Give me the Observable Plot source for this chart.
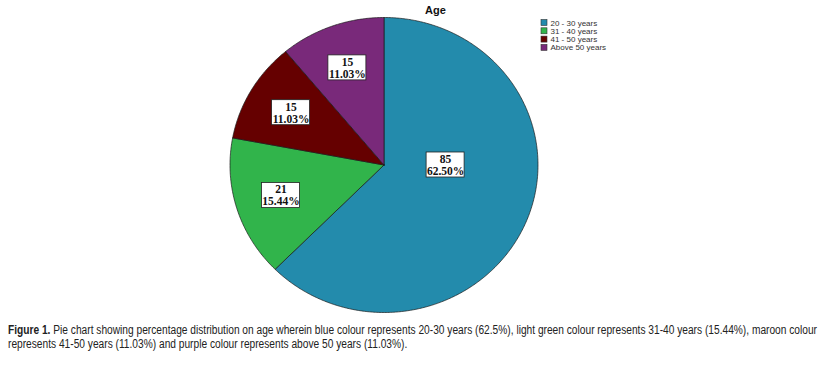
<!DOCTYPE html>
<html><head><meta charset="utf-8">
<script src="https://cdn.jsdelivr.net/npm/d3@7"></script>
<script src="https://cdn.jsdelivr.net/npm/@observablehq/plot@0.6"></script>
<style>
body{margin:0;background:#fff;}
#caption{font-family:"Liberation Sans",Arial,sans-serif;font-size:12px;color:#222;line-height:13.5px;padding:6px 0 0 8px;}
#caption div{white-space:nowrap;transform-origin:0 0;display:inline-block;}
</style></head>
<body><div id="chart"></div>
<div id="caption"><div id="cl1"><b>Figure 1.</b> Pie chart showing percentage distribution on age wherein blue colour represents 20-30 years (62.5%), light green colour represents 31-40 years (15.44%), maroon colour</div><br><div id="cl2">represents 41-50 years (11.03%) and purple colour represents above 50 years (11.03%).</div></div>
<script>
const categories = ["20 - 30 years", "31 - 40 years", "41 - 50 years", "Above 50 years"];
const counts = [85, 21, 15, 15];
const colors = ["#238bac", "#31b44b", "#650000", "#79297a"];
const chartTitle = "Age";

const W = 834, H = 318;
const cx = 383.5, cy = 164.5, rx = 154, ry = 147.5;
const total = d3.sum(counts);
const data = categories.map((c, i) => ({category: c, count: counts[i], pct: (100 * counts[i] / total).toFixed(2) + "%"}));
const arcs = d3.pie().sort(null).value(d => d.count)(data);

// slice outlines
const pts = [];
for (const a of arcs) {
  const n = Math.max(4, Math.ceil((a.endAngle - a.startAngle) / 0.01));
  pts.push({category: a.data.category, x: cx, y: cy});
  for (let k = 0; k <= n; k++) {
    const t = a.startAngle + (a.endAngle - a.startAngle) * k / n;
    pts.push({category: a.data.category, x: cx + rx * Math.sin(t), y: cy - ry * Math.cos(t)});
  }
  pts.push({category: a.data.category, x: cx, y: cy});
}

// label positions
const labels = arcs.map(a => {
  const span = a.endAngle - a.startAngle;
  const m = (a.startAngle + a.endAngle) / 2;
  let x, y;
  if (span > Math.PI) {
    x = cx + Math.sign(Math.sin(m)) * 0.4 * rx; y = cy;
  } else {
    x = cx + 0.7 * rx * Math.sin(m); y = cy - 0.7 * ry * Math.cos(m);
  }
  return {x, y, text: a.data.count + "\n" + a.data.pct};
});

const legend = categories.map((c, i) => ({category: c, y: 22.5 + i * 8.3}));

const plot = Plot.plot({
  width: W, height: H, margin: 0,
  x: {domain: [0, W], range: [0, W], axis: null},
  y: {domain: [0, H], range: [0, H], axis: null},
  color: {domain: categories, range: colors},
  marks: [
    Plot.line(pts, {x: "x", y: "y", z: "category", fill: "category", stroke: "#1a1a1a", strokeWidth: 0.7, strokeLinejoin: "round"}),
    Plot.rect(labels, {x1: d => d.x - 19, x2: d => d.x + 19, y1: d => d.y - 12.5, y2: d => d.y + 12.5, fill: "white", stroke: "#222", strokeWidth: 0.8}),
    Plot.text(labels, {x: "x", y: "y", text: "text", fontFamily: "Liberation Serif, Times New Roman, serif", fontSize: 11.5, fontWeight: "bold", lineHeight: 1.05, fill: "#111"}),
    Plot.text([chartTitle], {x: 435, y: 9.5, text: d => d, fontFamily: "Liberation Sans, Arial, sans-serif", fontSize: 11, fontWeight: "bold", fill: "#111"}),
    Plot.rect(legend, {x1: 541, x2: 547, y1: d => d.y - 3, y2: d => d.y + 3, fill: "category", stroke: "#333", strokeWidth: 0.6}),
    Plot.text(legend, {x: 550, y: "y", text: "category", textAnchor: "start", fontFamily: "Liberation Sans, Arial, sans-serif", fontSize: 8, fill: "#333"})
  ]
});
document.getElementById("chart").append(plot);

// condense caption lines to match the narrow typeface of the reference
const l1 = document.getElementById("cl1"), l2 = document.getElementById("cl2");
const k = 809 / l1.getBoundingClientRect().width;
l1.style.transform = `scaleX(${k})`;
l2.style.transform = `scaleX(${k})`;
</script>
</body></html>
